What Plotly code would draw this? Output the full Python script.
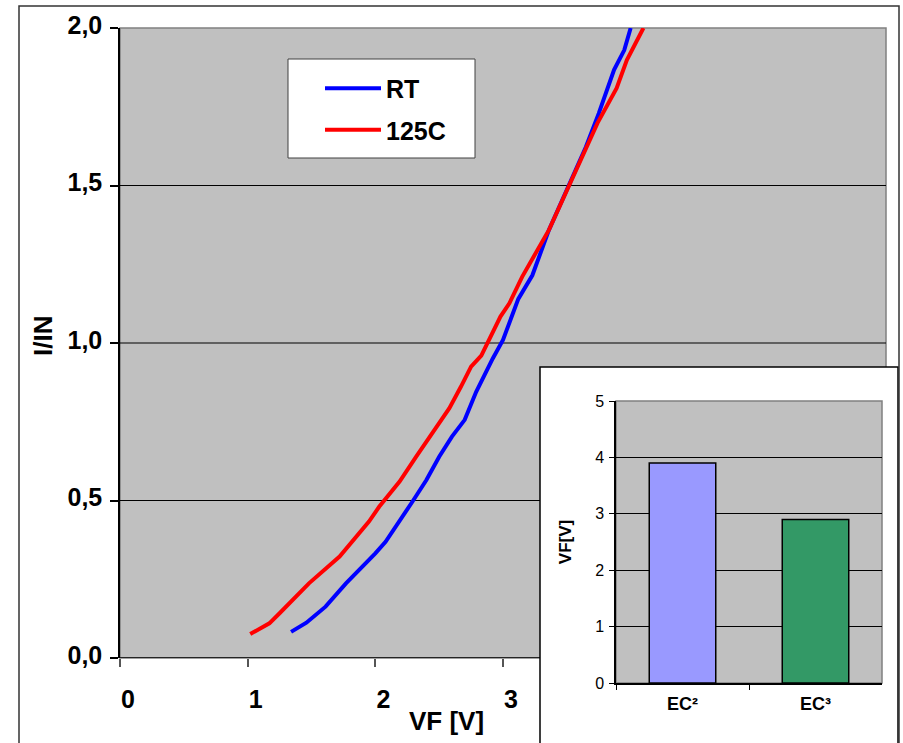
import plotly.graph_objects as go

W, H = 903, 743

# Forward characteristics, I/IN versus VF [V]
rt_vf = [1.34, 1.46, 1.61, 1.77, 2.00, 2.08, 2.29, 2.40, 2.50, 2.60, 2.70, 2.79,
         2.92, 3.00, 3.12, 3.23, 3.36, 3.52, 3.65, 3.75, 3.82, 3.87, 3.95, 4.00]
rt_iin = [0.083, 0.112, 0.163, 0.237, 0.332, 0.369, 0.496, 0.565, 0.639, 0.703, 0.756, 0.845,
          0.951, 1.010, 1.140, 1.215, 1.359, 1.502, 1.623, 1.729, 1.813, 1.867, 1.930, 2.000]

hot_vf = [1.02, 1.17, 1.25, 1.48, 1.72, 1.95, 2.03, 2.19, 2.32, 2.45, 2.58, 2.67,
          2.75, 2.83, 2.98, 3.05, 3.15, 3.36, 3.52, 3.74, 3.89, 3.97, 4.10]
hot_iin = [0.076, 0.110, 0.142, 0.237, 0.322, 0.433, 0.480, 0.560, 0.639, 0.718, 0.793, 0.861,
           0.925, 0.960, 1.084, 1.126, 1.210, 1.359, 1.502, 1.698, 1.809, 1.898, 2.000]

Y_TICKS = [0.0, 0.5, 1.0, 1.5, 2.0]
Y_GRID = [0.5, 1.0, 1.5]
X_TICKS = [0, 1, 2, 3]

# Inset: forward voltage per chip generation
chip_names = ["EC²", "EC³"]
chip_vf = [3.9, 2.9]
chip_colors = ["#9999FF", "#339966"]
INSET_TICKS = [0, 1, 2, 3, 4, 5]


def px(x):
    return x / W


def py(y):
    return 1 - y / H


FONT = "Liberation Sans, Arial, sans-serif"
GRAY_BG = "#C0C0C0"

main_x = [px(120), px(886)]
main_y = [py(658), py(28)]
ins_x = [px(616), px(882)]
ins_y = [py(683), py(401)]

fig = go.Figure()
fig.add_trace(go.Scatter(x=rt_vf, y=rt_iin, mode="lines", name="RT",
                         line=dict(color="#0000FF", width=4), legendgroup="rt",
                         xaxis="x", yaxis="y"))
fig.add_trace(go.Scatter(x=hot_vf, y=hot_iin, mode="lines", name="125C",
                         line=dict(color="#FF0000", width=4), legendgroup="hot",
                         xaxis="x", yaxis="y"))
fig.add_trace(go.Bar(x=chip_names, y=chip_vf, width=0.5, showlegend=False,
                     marker=dict(color=chip_colors, line=dict(color="black", width=1.5)),
                     xaxis="x2", yaxis="y2"))

shapes = []
# main plot area
shapes.append(dict(type="rect", xref="paper", yref="paper", layer="below",
                   x0=main_x[0], x1=main_x[1], y0=main_y[0], y1=main_y[1],
                   fillcolor=GRAY_BG, line=dict(color="#808080", width=1.5)))
for g in Y_GRID:
    shapes.append(dict(type="line", xref="paper", yref="y", layer="below",
                       x0=main_x[0], x1=main_x[1], y0=g, y1=g,
                       line=dict(color="black", width=1)))
# category axis line
shapes.append(dict(type="line", xref="paper", yref="y", layer="below",
                   x0=main_x[0], x1=main_x[1], y0=0, y1=0,
                   line=dict(color="black", width=1.5)))
# legend frame
shapes.append(dict(type="rect", xref="paper", yref="paper", layer="below",
                   x0=px(288), x1=px(475), y0=py(158), y1=py(59),
                   fillcolor="white", line=dict(color="#404040", width=1)))
# inset panel
shapes.append(dict(type="rect", xref="paper", yref="paper", layer="below",
                   x0=px(540), x1=px(898), y0=py(780), y1=py(367),
                   fillcolor="white", line=dict(color="black", width=1.5)))
shapes.append(dict(type="rect", xref="paper", yref="paper", layer="below",
                   x0=ins_x[0], x1=ins_x[1], y0=ins_y[0], y1=ins_y[1],
                   fillcolor=GRAY_BG, line=dict(color="#808080", width=1.5)))
# outer frame
shapes.append(dict(type="rect", xref="paper", yref="paper", layer="above",
                   x0=px(19), x1=px(899), y0=py(780), y1=py(6),
                   fillcolor="rgba(0,0,0,0)", line=dict(color="#333333", width=1.5)))

bold = dict(family=FONT, size=25, color="black", weight="bold")

fig.update_layout(
    width=W, height=H,
    margin=dict(l=0, r=0, t=0, b=0, autoexpand=False),
    paper_bgcolor="white",
    plot_bgcolor="rgba(0,0,0,0)",
    separators=", ",
    font=dict(family=FONT, color="black"),
    shapes=shapes,
    showlegend=True,
    legend=dict(x=px(320), y=py(65.5), xanchor="left", yanchor="top",
                bgcolor="rgba(0,0,0,0)", borderwidth=0, font=bold,
                tracegroupgap=6, itemwidth=56),
    xaxis=dict(domain=main_x, anchor="y", range=[0, 6], tickvals=X_TICKS,
               ticks="outside", ticklen=8, tickcolor="#555555", tickwidth=1.5,
               showline=False, showgrid=False, zeroline=False,
               tickfont=bold, ticklabelstandoff=11, ticklabelshift=8),
    yaxis=dict(domain=main_y, anchor="x", range=[0, 2], tickvals=Y_TICKS,
               tickformat=".1f", ticks="outside", ticklen=8, tickcolor="black",
               tickwidth=1.5, showline=True, linecolor="black", linewidth=1.5,
               showgrid=False, zeroline=False, tickfont=bold,
               ticklabelstandoff=3, ticklabelshift=-3),
    xaxis2=dict(domain=ins_x, anchor="y2", type="category",
                ticks="outside", tickson="boundaries", ticklen=5, tickcolor="black",
                showline=True, linecolor="black", linewidth=1.5, showgrid=False,
                zeroline=False, ticklabelstandoff=4,
                tickfont=dict(family=FONT, size=18, color="black", weight="bold")),
    yaxis2=dict(domain=ins_y, anchor="x2", range=[0, 5], tickvals=INSET_TICKS,
                ticks="outside", ticklen=5, tickcolor="black",
                showline=True, linecolor="black", linewidth=1.5,
                showgrid=True, gridcolor="black", gridwidth=1, zeroline=False,
                tickfont=dict(family=FONT, size=16, color="black"),
                ticklabelstandoff=2,
                title=dict(text="VF[V]", standoff=19,
                           font=dict(family=FONT, size=17, color="black", weight="bold"))),
    annotations=[
        dict(text="VF [V]", xref="paper", yref="paper", x=px(446.5), y=py(721),
             xanchor="center", yanchor="middle", showarrow=False,
             font=dict(family=FONT, size=26, color="black", weight="bold")),
        dict(text="I/IN", xref="paper", yref="paper", x=px(42.5), y=py(336.5),
             xanchor="center", yanchor="middle", showarrow=False, textangle=-90,
             font=dict(family=FONT, size=26, color="black", weight="bold")),
    ],
)

fig.write_html("out.html")
